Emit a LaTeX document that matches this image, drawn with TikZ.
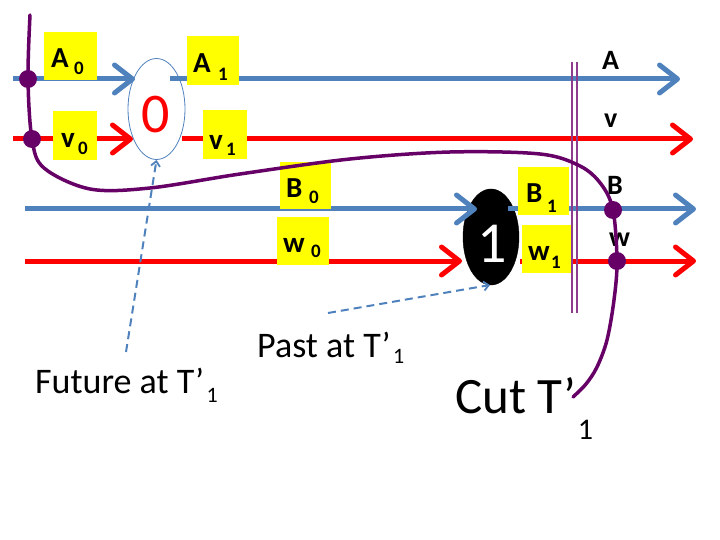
\documentclass[tikz,border=0pt]{standalone}
\usepackage{fontspec}
\setmainfont{Carlito}
\usetikzlibrary{arrows.meta,shapes.geometric}
\definecolor{lblue}{HTML}{4F81BD}
\definecolor{lred}{HTML}{FF0000}
\definecolor{cutp}{HTML}{660066}
\definecolor{barp}{HTML}{8E3C8E}
\definecolor{ybox}{HTML}{FFFF00}
\newcommand{\fs}[1]{\fontsize{#1}{#1}\selectfont}
\tikzset{
  x=1pt, y=-1pt,
  flow/.style={line width=5pt, -{Straight Barb[length=18pt,width=28pt,line width=5pt,round]}},
  bluef/.style={draw=lblue},
  redf/.style={draw=lred},
  yb/.style={fill=ybox, draw=none, inner sep=0pt, outer sep=0pt},
  lbl/.style={anchor=base west, inner sep=0pt, font=\bfseries\fs{29}},
  subl/.style={anchor=base west, inner sep=0pt, font=\bfseries\fs{19}},
  rlbl/.style={anchor=base west, inner sep=0pt, font=\bfseries\fs{28}},
  txt/.style={anchor=base west, inner sep=0pt, font=\fs{36}},
  txtsub/.style={anchor=base west, inner sep=0pt, font=\fs{22}},
  dot/.style={circle, fill=cutp, draw=none, minimum size=18pt, inner sep=0pt},
  pointer/.style={draw=lblue, line width=2pt, dash pattern=on 8pt off 5pt, -{Straight Barb[length=5pt,width=9pt,line width=1.8pt]}},
}
\begin{document}
\begin{tikzpicture}
\useasboundingbox (0,0) rectangle (720,540);
% ellipses
\node[ellipse, draw=lblue, line width=0.8pt, fill=white, minimum width=57pt, minimum height=101pt, inner sep=0pt] (e0) at (156.5,109) {};
\node[ellipse, draw=black, fill=black, minimum width=56pt, minimum height=96pt, inner sep=0pt] (e1) at (491,237) {};
\node[inner sep=0pt, text=lred, font=\fs{56}] (t0) at (156,115) {0};
\node[inner sep=0pt, text=white, font=\fs{58}] (t1) at (492,244) {1};
% coordinates for line ends
\coordinate (aS) at (13,79);   \coordinate (aT) at (135,79);
\coordinate (a1s) at (170,79); \coordinate (aE) at (680,79);
\coordinate (vS) at (13,139);  \coordinate (vT) at (133,139);
\coordinate (v1s) at (182,139); \coordinate (vE) at (693,139);
\coordinate (bS) at (25,209);  \coordinate (bT) at (477,209);
\coordinate (b1s) at (508,209); \coordinate (bE) at (696,209);
\coordinate (wS) at (25,261);  \coordinate (wT) at (462,261);
\coordinate (w1s) at (520,261); \coordinate (wE) at (696,261);
% flows
\draw[flow, bluef] (aS) -- (aT);
\draw[flow, bluef] (a1s) -- (aE);
\draw[flow, redf] (vS) -- (vT);
\draw[flow, redf] (v1s) -- (vE);
\draw[flow, bluef] (bS) -- (bT);
\draw[flow, bluef] (b1s) -- (bE);
\draw[flow, redf] (wS) -- (wT);
\draw[flow, redf] (w1s) -- (wE);
% yellow boxes
\node[yb, minimum width=53pt, minimum height=48pt] (bA0) at (70.5,56) {};
\node[yb, minimum width=52pt, minimum height=49pt] (bA1) at (213,60.5) {};
\node[yb, minimum width=44pt, minimum height=49pt] (bv0) at (75,135.5) {};
\node[yb, minimum width=44pt, minimum height=49pt] (bv1) at (225,134.5) {};
\node[yb, minimum width=51pt, minimum height=47pt] (bB0) at (305.5,185.5) {};
\node[yb, minimum width=52pt, minimum height=48pt] (bw0) at (303,241) {};
\node[yb, minimum width=51pt, minimum height=48pt] (bB1) at (543.5,191) {};
\node[yb, minimum width=51pt, minimum height=48pt] (bw1) at (547.5,249) {};
% box labels
\node[lbl] (lA0) at (51,68) {A}; \node[subl] (sA0) at (74,75) {0};
\node[lbl] (lA1) at (193,73) {A}; \node[subl] (sA1) at (218,81) {1};
\node[lbl] (lv0) at (61,148) {v}; \node[subl] (sv0) at (78,155) {0};
\node[lbl] (lv1) at (209,150) {v}; \node[subl] (sv1) at (226,156) {1};
\node[lbl] (lB0) at (286,197) {B}; \node[subl] (sB0) at (309,204) {0};
\node[lbl] (lw0) at (283,252) {w}; \node[subl] (sw0) at (311,258) {0};
\node[lbl] (lB1) at (526,203) {B}; \node[subl] (sB1) at (547,212) {1};
\node[lbl] (lw1) at (528,260) {w}; \node[subl] (sw1) at (551,268) {1};
% right labels
\node[rlbl] (rA) at (602,70) {A};
\node[rlbl] (rv) at (604,128) {v};
\node[rlbl] (rB) at (607,195) {B};
\node[rlbl] (rw) at (609,247) {w};
% double bar
\draw[barp, line width=1.5pt] (572,62) coordinate (bar1t) -- (572,313) coordinate (bar1b);
\draw[barp, line width=1.5pt] (577,62) coordinate (bar2t) -- (577,313) coordinate (bar2b);
% cut curve
\coordinate (dA) at (28,79);
\coordinate (dv) at (32,139);
\coordinate (dB) at (613,210);
\coordinate (dw) at (617,261);
\draw[cutp, line width=3.5pt, line cap=round] plot[smooth, tension=0.55] coordinates {
  (30,15) (28,79) (32,139) (44,168) (90,189) (150,188) (240,174) (350,159) (450,152)
  (540,154) (580,166) (601,184) (613,210) (617,261) (614,300) (607,340) (597,367) (586,384) (573,397)};
\node[dot] (dotA) at (dA) {};
\node[dot] (dotv) at (dv) {};
\node[dot] (dotB) at (dB) {};
\node[dot] (dotw) at (dw) {};
% text labels
\node[txt] (fut) at (35,393) {Future at T’};
\node[txtsub] (futs) at (fut.base east) [anchor=base west, yshift=-9pt, xshift=2pt] {1};
\node[txt] (past) at (257,357) {Past at T’};
\node[txtsub] (pasts) at (past.base east) [anchor=base west, yshift=-6pt, xshift=2pt] {1};
\node[txt, font=\fs{51}] (cut) at (455,413) {Cut T’};
\node[txtsub, font=\fs{30}] (cuts) at (cut.base east) [anchor=base west, yshift=-26pt, xshift=1pt] {1};
% pointers
\coordinate (futp) at (126,352);
\coordinate (pastp) at (328,313);
\coordinate (pastt) at (490,285);
\draw[pointer] (futp) -- (e0.south);
\draw[pointer] (pastp) -- (pastt);
\end{tikzpicture}
\end{document}
